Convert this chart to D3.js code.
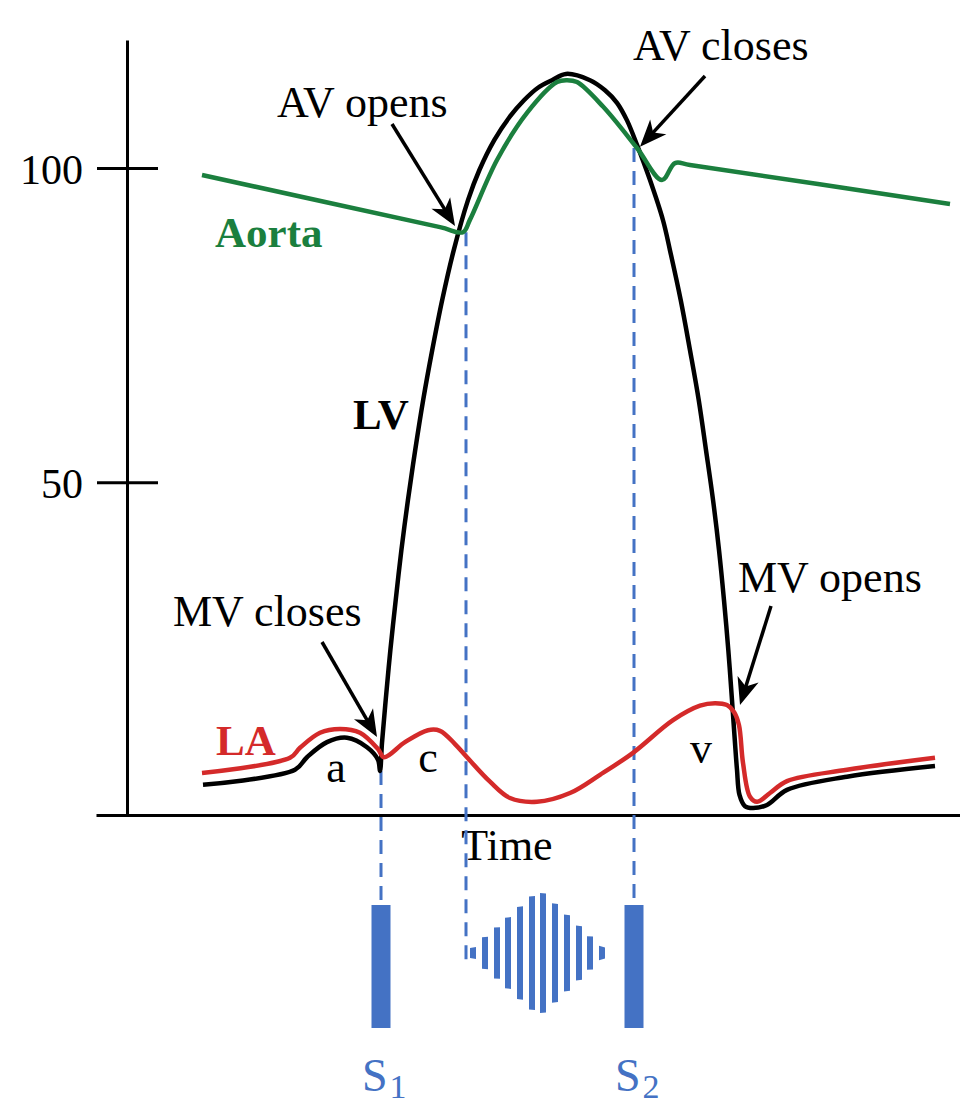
<!DOCTYPE html>
<html>
<head>
<meta charset="utf-8">
<script src="https://cdn.jsdelivr.net/npm/d3@7"></script>
<style>
  body { margin: 0; background: #fff; }
  svg text { font-family: "Liberation Serif", "Times New Roman", serif; }
</style>
</head>
<body>
<svg id="chart" width="960" height="1108"></svg>
<script>
// time in ms, pressure in mmHg
const lvPressure = [[76,1.8],[168,4.2],[180,6.2],[200,8.6],[220,9.3],[240,7.8],[251,5.8],[253,4.0],[255,8.5],
  [258.7,15.3],[263.4,23.3],[268.7,31.2],[274.4,39.2],[280.9,47.1],[288.2,55.1],[296.2,63.1],[305.2,71.0],
  [315.2,79.0],[326.7,86.9],[341,94.9],[352.4,99.7],[367.4,104.5],[382.4,108.1],[397,110.8],[411,112.8],
  [425,114.0],[439,115.0],[463,114.0],[478,112.4],[490,110.4],[500,107.6],[510,103.7],[523,98.1],[536,91.7],
  [543,86.9],[553.7,79.0],[563,71.0],[571.7,63.1],[579,55.1],[586,47.2],[592,39.2],[597,31.2],[601.3,23.3],
  [605,15.3],[607.8,8.9],[610,4.2],[612.5,0.2],[618,-1.6],[626,-1.9],[640,-1.4],[660,1.0],[720,3.1],[808,4.8]];

const aortaPressure = [[75,98.9],[313,90.6],[336,89.8],[343,91.8],[370,101.3],[400,108.8],[430,113.7],
  [440,114.0],[450,113.7],[476,109.8],[510,103.2],[535,98.1],[548,100.8],[563,100.5],[823,94.3]];

const laPressure = [[75,3.7],[163,6.1],[173,7.7],[193,10.1],[213,10.7],[233,10.1],[251,7.5],[257,6.2],
  [278,8.6],[301,10.5],[313,10.4],[328,8.3],[340,6.2],[363,2.3],[383,-0.3],[410,-0.9],[443,0.5],[473,3.4],
  [506,6.9],[546,12.1],[573,14.4],[588,14.8],[600,14.5],[607,13.4],[612,11.3],[616,5.3],[623,-0.1],
  [630,-0.9],[643,0.5],[660,2.4],[720,4.2],[808,6.1]];

const yTicks = [50, 100];

// valve events: S1 (MV closes), AV opens, S2 (AV closes)
const markerTimes = [254, 339, 507];
const markerPressures = [4.0, 89.8, 103.2];

const soundTimes = [254, 507];
const soundNames = ["1", "2"];

const murmurTimes = [346, 358, 370, 381, 393, 405, 416, 428, 440, 452, 463, 475];
const murmurIntensity = [1.0, 2.7, 4.3, 6.0, 7.8, 9.5, 10, 8.3, 6.4, 4.6, 2.8, 1.2];

const annotationText = ["AV opens", "AV closes", "MV closes", "MV opens"];
const annotationTip = [[328, 90.8], [513, 103.4], [250, 9.4], [613, 14.5]];

// layout
const blue = "#4472c4", green = "#1b7f3e", red = "#d42a2a";
const dashEnd = [905, 965, 905];
const murmurMid = 953;
const annotationLayout = [
  { tx: 277, ty: 117, sx: 392, sy: 124 },
  { tx: 633, ty: 60, sx: 705, sy: 76 },
  { tx: 173, ty: 626, sx: 322, sy: 642 },
  { tx: 738, ty: 592, sx: 771, sy: 606 }
];

const svg = d3.select("#chart");

const x = d3.scaleLinear().domain([-31, 833]).range([96, 960]);
const y = d3.scaleLinear().domain([-3, 120.4]).range([815, 40]);
const murmurScale = d3.scaleLinear().domain([0, 10]).range([0, 120]);

// axes
const yAxis = svg.append("g")
  .attr("transform", `translate(${x(0)},0)`)
  .call(d3.axisLeft(y).tickValues(yTicks).tickSize(30).tickSizeOuter(0)
    .tickPadding(14).tickFormat(d3.format("d")));
yAxis.select(".domain").attr("stroke", "#000").attr("stroke-width", 3);
yAxis.selectAll(".tick line").attr("x1", 31).attr("stroke", "#000").attr("stroke-width", 3);
yAxis.selectAll(".tick text")
  .attr("font-size", 42)
  .attr("fill", "#000")
  .attr("dy", "0.36em");

const xAxis = svg.append("g")
  .attr("transform", `translate(0,${y(-3)})`)
  .call(d3.axisBottom(x).tickValues([]).tickSizeOuter(0));
xAxis.select(".domain").attr("stroke", "#000").attr("stroke-width", 3);

svg.append("text")
  .attr("x", x(380))
  .attr("y", 860)
  .attr("text-anchor", "middle")
  .attr("font-size", 44)
  .text("Time");

// dashed event lines
svg.selectAll(".event")
  .data(markerTimes)
  .enter()
  .append("line")
  .attr("class", "event")
  .attr("x1", d => x(d))
  .attr("x2", d => x(d))
  .attr("y1", (d, i) => y(markerPressures[i]))
  .attr("y2", (d, i) => dashEnd[i])
  .attr("stroke", blue)
  .attr("stroke-width", 3)
  .attr("stroke-dasharray", "14,9");

// heart sounds
svg.selectAll(".sound")
  .data(soundTimes)
  .enter()
  .append("rect")
  .attr("class", "sound")
  .attr("x", d => x(d) - 9.5)
  .attr("y", 905)
  .attr("width", 19)
  .attr("height", 123)
  .attr("fill", blue);

svg.selectAll(".sound-label")
  .data(soundTimes)
  .enter()
  .append("text")
  .attr("class", "sound-label")
  .attr("x", d => x(d) - 19)
  .attr("y", 1091)
  .attr("font-size", 46)
  .attr("fill", blue)
  .text("S")
  .append("tspan")
  .attr("font-size", 34)
  .attr("dy", 7)
  .attr("dx", 2)
  .text((d, i) => soundNames[i]);

// systolic murmur: stripes whose ends follow the diamond envelope
const envelope = d3.scaleLinear()
  .domain([murmurTimes[0] - 6, ...murmurTimes, murmurTimes[murmurTimes.length - 1] + 6])
  .range([0, ...murmurIntensity.map(v => murmurScale(v) / 2), 0])
  .clamp(true);
const half = 3;
svg.selectAll(".murmur")
  .data(murmurTimes)
  .enter()
  .append("polygon")
  .attr("class", "murmur")
  .attr("points", (d, i) => {
    const xl = x(d) - half, xr = x(d) + half;
    const hm = murmurScale(murmurIntensity[i]) / 2;
    const hl = Math.min(hm, envelope(x.invert(xl)) + 2);
    const hr = Math.min(hm, envelope(x.invert(xr)) + 2);
    return [[xl, murmurMid - hl], [xr, murmurMid - hr], [xr, murmurMid + hr], [xl, murmurMid + hl]]
      .map(p => p.join(",")).join(" ");
  })
  .attr("fill", blue);

// pressure curves
const line = d3.line()
  .x(d => x(d[0]))
  .y(d => y(d[1]))
  .curve(d3.curveCatmullRom.alpha(0.5));

svg.append("path")
  .datum(lvPressure)
  .attr("d", line)
  .attr("fill", "none")
  .attr("stroke", "#000")
  .attr("stroke-width", 4.5)
  .attr("stroke-linejoin", "round");

svg.append("path")
  .datum(laPressure)
  .attr("d", line)
  .attr("fill", "none")
  .attr("stroke", red)
  .attr("stroke-width", 4.5)
  .attr("stroke-linejoin", "round");

svg.append("path")
  .datum(aortaPressure)
  .attr("d", line)
  .attr("fill", "none")
  .attr("stroke", green)
  .attr("stroke-width", 4.5)
  .attr("stroke-linejoin", "round");

// curve labels
svg.append("text").attr("x", 215).attr("y", 247)
  .attr("font-size", 43).attr("font-weight", "bold").attr("fill", green).text("Aorta");
svg.append("text").attr("x", 216).attr("y", 755)
  .attr("font-size", 43).attr("font-weight", "bold").attr("fill", red).text("LA");
svg.append("text").attr("x", 353).attr("y", 429)
  .attr("font-size", 43).attr("font-weight", "bold").attr("fill", "#000").text("LV");

svg.append("text").attr("x", 336).attr("y", 782).attr("text-anchor", "middle")
  .attr("font-size", 44).text("a");
svg.append("text").attr("x", 428).attr("y", 772).attr("text-anchor", "middle")
  .attr("font-size", 44).text("c");
svg.append("text").attr("x", 701).attr("y", 763).attr("text-anchor", "middle")
  .attr("font-size", 44).text("v");

// annotations with arrows
annotationText.forEach((label, i) => {
  const lay = annotationLayout[i];
  const tip = [x(annotationTip[i][0]), y(annotationTip[i][1])];
  const dx = tip[0] - lay.sx, dy = tip[1] - lay.sy;
  const len = Math.sqrt(dx * dx + dy * dy);
  const ux = dx / len, uy = dy / len;
  const nx = -uy, ny = ux;
  const L = 27, W = 11;

  svg.append("text")
    .attr("x", lay.tx)
    .attr("y", lay.ty)
    .attr("font-size", 44)
    .text(label);

  svg.append("line")
    .attr("x1", lay.sx)
    .attr("y1", lay.sy)
    .attr("x2", tip[0] - ux * L * 0.7)
    .attr("y2", tip[1] - uy * L * 0.7)
    .attr("stroke", "#000")
    .attr("stroke-width", 3.5);

  const pts = [
    tip,
    [tip[0] - ux * L + nx * W, tip[1] - uy * L + ny * W],
    [tip[0] - ux * L * 0.72, tip[1] - uy * L * 0.72],
    [tip[0] - ux * L - nx * W, tip[1] - uy * L - ny * W]
  ];
  svg.append("polygon")
    .attr("points", pts.map(p => p.join(",")).join(" "))
    .attr("fill", "#000");
});
</script>
</body>
</html>
